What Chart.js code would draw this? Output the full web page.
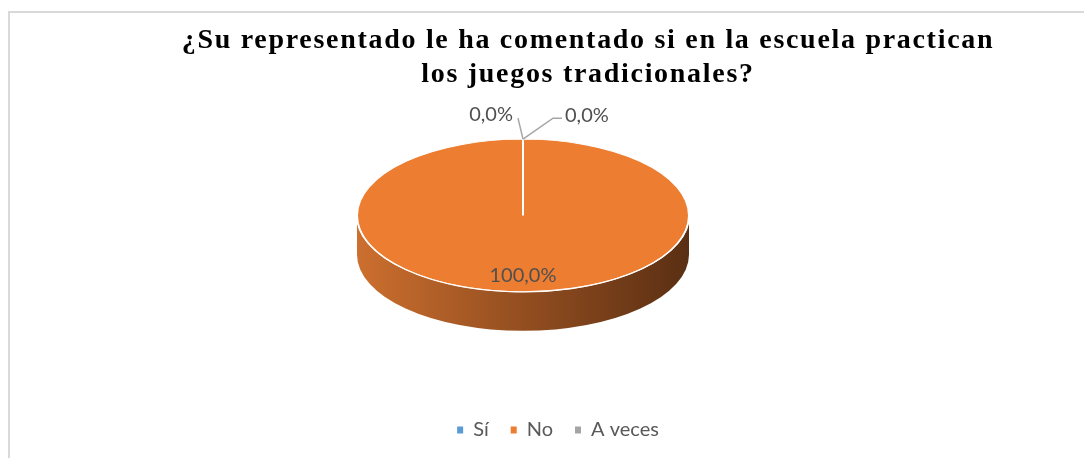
<!DOCTYPE html>
<html>
<head>
<meta charset="utf-8">
<script src="https://cdn.jsdelivr.net/npm/chart.js@4/dist/chart.umd.min.js"></script>
<style>
  html, body { margin: 0; padding: 0; background: #fff; }
  #wrap { position: relative; width: 1084px; height: 458px; }
</style>
</head>
<body>
<div id="wrap"><canvas id="chart" width="1084" height="458"></canvas></div>
<script>
// data
var categories = ['Sí', 'No', 'A veces'];
var percentages = [0, 100, 0];
var sliceColors = ['#5B9BD5', '#ED7D31', '#A5A5A5'];
var titleLines = ['¿Su representado le ha comentado si en la escuela practican', 'los juegos tradicionales?'];

var TILT = 0.46;  // vertical squash of the pie
var DEPTH = 39;   // thickness of the pie edge, px

function fmtPct(v) {
  return v.toFixed(1).replace('.', ',') + '%';
}

// point on the tilted top face
function project(arc, angle, r) {
  return { x: arc.x + Math.cos(angle) * r, y: arc.y + Math.sin(angle) * r * TILT };
}

var framePlugin = {
  id: 'frame',
  beforeDraw: function (chart) {
    var ctx = chart.ctx;
    ctx.save();
    ctx.fillStyle = '#fff';
    ctx.fillRect(0, 0, chart.width, chart.height);
    ctx.strokeStyle = '#D9D9D9';
    ctx.lineWidth = 2;
    ctx.strokeRect(9, 12, chart.width + 20, chart.height + 20);
    ctx.restore();
  }
};

// title and legend are not centred on the pie in the original
var shiftPlugin = {
  id: 'shift',
  afterLayout: function (chart) {
    var t = chart.titleBlock, l = chart.legend;
    t.left += 65; t.right += 65;
    l.left += 35; l.right += 35;
    l.top += 59; l.bottom += 59;
    if (!t._spaced) {
      // the original title is set with expanded character spacing
      var draw = t.draw;
      t.draw = function (area) {
        var ctx = this.ctx, prev = ctx.letterSpacing;
        ctx.letterSpacing = '1.7px';
        draw.call(this, area);
        ctx.letterSpacing = prev;
      };
      t._spaced = true;
    }
  }
};

var pie3dPlugin = {
  id: 'pie3d',
  beforeDatasetsDraw: function (chart) {
    var ctx = chart.ctx, meta = chart.getDatasetMeta(0);
    var first = meta.data[0], cx = first.x, cy = first.y, R = first.outerRadius;
    var grad = ctx.createLinearGradient(cx - R, 0, cx + R, 0);
    grad.addColorStop(0, '#CC6F2F');
    grad.addColorStop(0.5, '#934E20');
    grad.addColorStop(1, '#5A2F13');
    ctx.save();
    meta.data.forEach(function (arc) {
      if (arc.circumference <= 0) return;
      // visible (front) part of the edge: angles 0..PI (and 2PI..3PI)
      [0, Math.PI * 2].forEach(function (base) {
        var s = Math.max(arc.startAngle, base), e = Math.min(arc.endAngle, base + Math.PI);
        if (e <= s) return;
        ctx.beginPath();
        ctx.ellipse(cx, cy, R, R * TILT, 0, s, e);
        ctx.ellipse(cx, cy + DEPTH, R, R * TILT, 0, e, s, true);
        ctx.closePath();
        ctx.fillStyle = grad;
        ctx.fill();
      });
    });
    ctx.restore();
    ctx.save();
    ctx.translate(cx, cy);
    ctx.scale(1, TILT);
    ctx.translate(-cx, -cy);
  },
  afterDatasetsDraw: function (chart) {
    var ctx = chart.ctx, first = chart.getDatasetMeta(0).data[0];
    ctx.restore();
    // light rim on the front edge
    ctx.save();
    ctx.beginPath();
    ctx.ellipse(first.x, first.y, first.outerRadius, first.outerRadius * TILT, 0, 0.08, Math.PI - 0.08);
    ctx.strokeStyle = 'rgba(255,255,255,0.9)';
    ctx.lineWidth = 1.3;
    ctx.stroke();
    ctx.restore();
  }
};

var labelPlugin = {
  id: 'pctLabels',
  afterDraw: function (chart) {
    var ctx = chart.ctx, meta = chart.getDatasetMeta(0);
    ctx.save();
    ctx.font = '20px Lato';
    ctx.fillStyle = '#505050';
    ctx.textBaseline = 'middle';
    meta.data.forEach(function (arc, i) {
      var text = fmtPct(percentages[i]);
      if (arc.circumference > 0) {
        var mid = (arc.startAngle + arc.endAngle) / 2;
        var p = project(arc, mid, arc.outerRadius * 0.78);
        ctx.textAlign = 'center';
        ctx.fillText(text, p.x, p.y);
        return;
      }
      var edge = project(arc, arc.startAngle, arc.outerRadius);
      ctx.strokeStyle = '#A6A6A6';
      ctx.lineWidth = 1.5;
      ctx.beginPath();
      ctx.moveTo(edge.x, edge.y);
      if (i < percentages.length / 2) {
        ctx.lineTo(edge.x - 5, edge.y - 21);
        ctx.stroke();
        ctx.textAlign = 'right';
        ctx.fillText(text, edge.x - 10, edge.y - 25);
      } else {
        ctx.lineTo(edge.x + 30, edge.y - 21);
        ctx.lineTo(edge.x + 39, edge.y - 21);
        ctx.stroke();
        ctx.textAlign = 'left';
        ctx.fillText(text, edge.x + 42, edge.y - 24);
      }
    });
    ctx.restore();
  }
};

new Chart(document.getElementById('chart'), {
  type: 'pie',
  data: {
    labels: categories,
    datasets: [{
      data: percentages,
      backgroundColor: sliceColors,
      borderColor: '#FFFFFF',
      borderWidth: 2,
      radius: 166,
      clip: false
    }]
  },
  options: {
    responsive: false,
    animation: false,
    devicePixelRatio: 1,
    layout: { padding: { left: 0, right: 38, top: 0, bottom: 67 } },
    plugins: {
      title: {
        display: true,
        text: titleLines,
        color: '#000000',
        font: { family: 'Liberation Serif', size: 28, weight: 'bold', lineHeight: '34px' },
        padding: { top: 24, bottom: 0 }
      },
      legend: {
        position: 'bottom',
        labels: {
          boxWidth: 6,
          boxHeight: 7,
          padding: 22,
          color: '#595959',
          font: { family: 'Lato', size: 20 },
          generateLabels: function (chart) {
            var items = Chart.overrides.pie.plugins.legend.labels.generateLabels(chart);
            items.forEach(function (it) { it.lineWidth = 0; });
            return items;
          }
        }
      },
      tooltip: { enabled: false }
    }
  },
  plugins: [framePlugin, shiftPlugin, pie3dPlugin, labelPlugin]
});
</script>
</body>
</html>
